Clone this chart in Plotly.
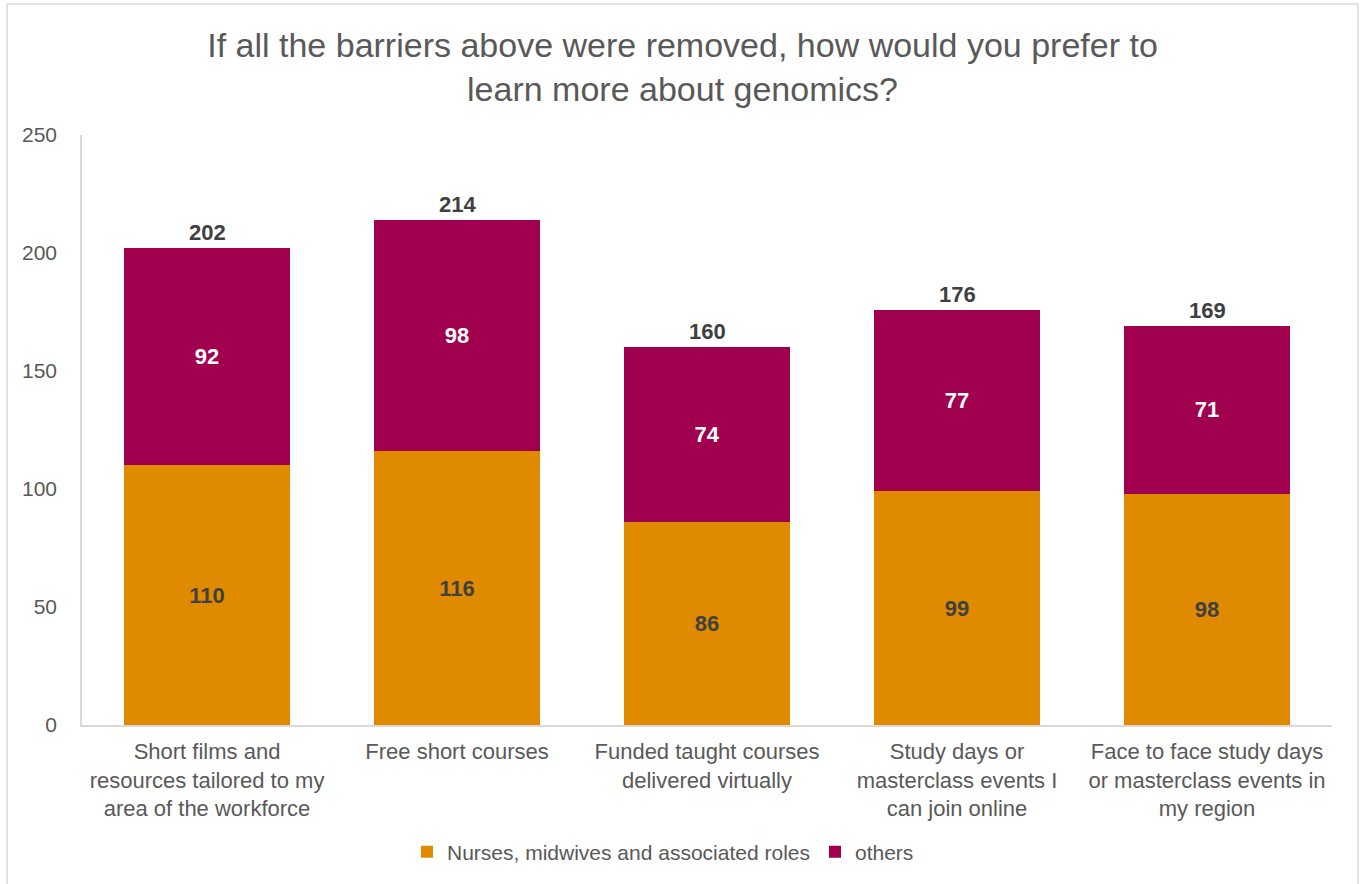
import plotly.graph_objects as go

categories = [
    "Short films and<br>resources tailored to my<br>area of the workforce",
    "Free short courses",
    "Funded taught courses<br>delivered virtually",
    "Study days or<br>masterclass events I<br>can join online",
    "Face to face study days<br>or masterclass events in<br>my region",
]
nurses = [110, 116, 86, 99, 98]
others = [92, 98, 74, 77, 71]
totals = [n + o for n, o in zip(nurses, others)]

ORANGE = "#E08A00"
MAGENTA = "#A0004E"
GREY_TEXT = "#595959"
DARK_TEXT = "#404040"
FONT = "Liberation Sans, Arial, sans-serif"

# page geometry (px)
W, H = 1365, 884
ML, MR, MT, MB = 82, 33, 135, 159
PW, PH = W - ML - MR, H - MT - MB

fig = go.Figure()
fig.add_trace(go.Bar(
    x=categories, y=nurses, name="Nurses, midwives and associated roles",
    marker=dict(color=ORANGE, line=dict(width=0)),
    text=nurses, textposition="inside", insidetextanchor="middle",
    textangle=0,
    textfont=dict(family=FONT, size=22, color=DARK_TEXT, weight="bold"),
))
fig.add_trace(go.Bar(
    x=categories, y=others, name="others",
    marker=dict(color=MAGENTA, line=dict(width=0)),
    text=others, textposition="inside", insidetextanchor="middle",
    textangle=0,
    textfont=dict(family=FONT, size=22, color="white", weight="bold"),
))

# stack totals above each bar
for c, t in zip(categories, totals):
    fig.add_annotation(
        x=c, y=t, text=f"<b>{t}</b>", showarrow=False,
        yanchor="bottom", yshift=1,
        font=dict(family=FONT, size=22, color=DARK_TEXT),
    )

def px_x(px):
    return (px - ML) / PW

def px_y(py):
    return (H - MB - py) / PH

# outer chart frame
fig.add_shape(
    type="rect", xref="paper", yref="paper",
    x0=px_x(7), x1=px_x(1358), y0=px_y(900), y1=px_y(4),
    line=dict(color="#D9D9D9", width=1.5), fillcolor="rgba(0,0,0,0)",
    layer="below",
)

fig.update_layout(
    width=W, height=H,
    barmode="stack", bargap=0.336,
    paper_bgcolor="white", plot_bgcolor="white",
    margin=dict(l=ML, r=MR, t=MT, b=MB, autoexpand=False),
    font=dict(family=FONT, color=GREY_TEXT),
    title=dict(
        text="If all the barriers above were removed, how would you prefer to<br>learn more about genomics?",
        x=0.5, xref="container", xanchor="center",
        y=1 - 57 / H, yref="container", yanchor="top",
        font=dict(family=FONT, size=34, color=GREY_TEXT),
    ),
    xaxis=dict(
        showline=True, linecolor="#D9D9D9", linewidth=1.5,
        ticks="", tickfont=dict(family=FONT, size=22, color=GREY_TEXT),
        showgrid=False, ticklabelstandoff=6,
    ),
    yaxis=dict(
        range=[0, 250], dtick=50, showline=True, linecolor="#D9D9D9",
        linewidth=1.5, showgrid=False, zeroline=False, ticks="",
        tickfont=dict(family=FONT, size=21, color=GREY_TEXT),
        ticklabelstandoff=19,
    ),
    legend=dict(
        orientation="h", x=px_x(663), xanchor="center",
        y=px_y(852), yanchor="middle",
        font=dict(family=FONT, size=21, color=GREY_TEXT),
        itemwidth=30, traceorder="normal",
    ),
    showlegend=True,
)

fig.write_html("out.html")
